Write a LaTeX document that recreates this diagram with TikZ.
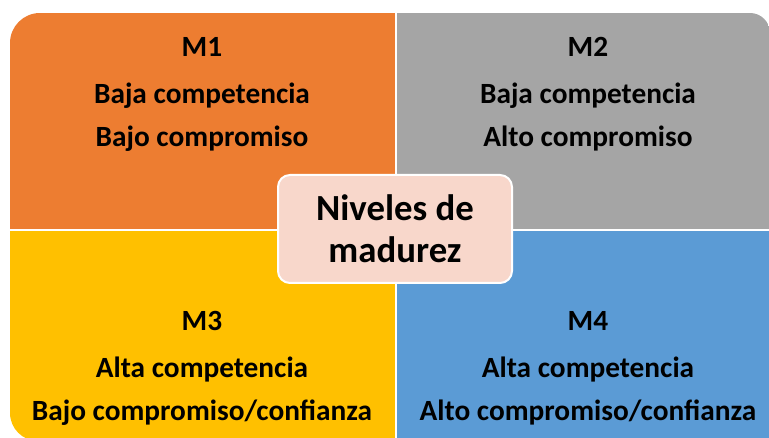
\documentclass[tikz,border=0pt]{standalone}
\usepackage{fontspec}
\setmainfont{Carlito}
\usepackage{xcolor}
\usetikzlibrary{positioning}

\definecolor{mOrange}{HTML}{ED7D31}
\definecolor{mGray}{HTML}{A5A5A5}
\definecolor{mYellow}{HTML}{FFC000}
\definecolor{mBlue}{HTML}{5B9BD5}
\definecolor{mPink}{HTML}{F8D7CB}

\tikzset{
  quadtext/.style={font=\bfseries\fontsize{22}{26}\selectfont, anchor=base, inner sep=0pt},
  centerbox/.style={draw=white, line width=1.5pt, fill=mPink, rounded corners=9pt,
    minimum width=175.5pt, minimum height=81pt, align=center,
    font=\bfseries\fontsize{27.6}{31.5}\selectfont}
}

\begin{document}
\begin{tikzpicture}[x=0.75pt,y=0.75pt]
    \useasboundingbox (0,0) rectangle (769,438);

    % Quadrants
    \begin{scope}
        \clip (10,25) -- (10,395) arc[start angle=180, end angle=90, radius=30]
            -- (750,425) arc[start angle=90, end angle=0, radius=20]
            -- (770,-3) -- (38,-3) arc[start angle=270, end angle=180, radius=28] -- cycle;
        \fill[mOrange] (10,209) rectangle (395,425);
        \fill[mGray] (397,209) rectangle (770,425);
        \fill[mYellow] (10,-3) rectangle (395,207);
        \fill[mBlue] (397,-3) rectangle (770,207);
    \end{scope}

    % M1
    \node[quadtext] (m1) at (202,381) {M1};
    \node[quadtext] (m1comp) at (202,334) {Baja competencia};
    \node[quadtext] (m1comm) at (202,291) {Bajo compromiso};

    % M2
    \node[quadtext] (m2) at (588,381) {M2};
    \node[quadtext] (m2comp) at (588,334) {Baja competencia};
    \node[quadtext] (m2comm) at (588,291) {Alto compromiso};

    % M3
    \node[quadtext] (m3) at (202,107) {M3};
    \node[quadtext] (m3comp) at (202,60) {Alta competencia};
    \node[quadtext] (m3comm) at (202,17) {Bajo compromiso/confianza};

    % M4
    \node[quadtext] (m4) at (588,107) {M4};
    \node[quadtext] (m4comp) at (588,60) {Alta competencia};
    \node[quadtext] (m4comm) at (588,17) {Alto compromiso/confianza};

    % Center
    \node[centerbox] (niveles) at (395,209) {Niveles de\\madurez};
\end{tikzpicture}
\end{document}
